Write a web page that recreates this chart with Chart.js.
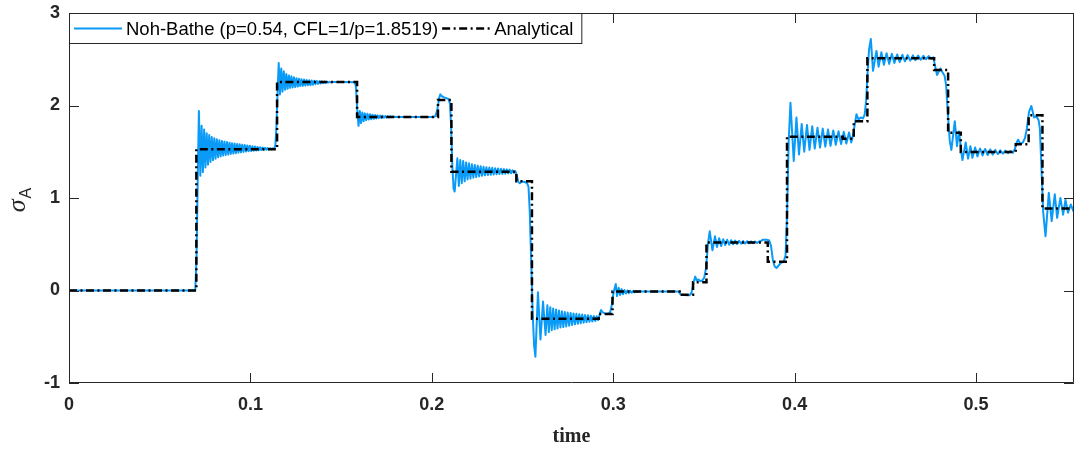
<!DOCTYPE html>
<html>
<head>
<meta charset="utf-8">
<script src="https://cdn.jsdelivr.net/npm/chart.js@4.4.1/dist/chart.umd.min.js"></script>
<style>
  html, body { margin: 0; padding: 0; background: #fff; }
  canvas { display: block; }
</style>
</head>
<body>
<canvas id="stressChart" width="1075" height="451"></canvas>
<script>
// Analytical stress at point A: step levels and the times they switch on
const analyticTimes  = [0, 0.0702, 0.1147, 0.1588, 0.2034, 0.2108, 0.2466, 0.2552, 0.2920, 0.2996, 0.3366, 0.3440,
                        0.3514, 0.3852, 0.3958, 0.4265, 0.4326, 0.4401, 0.4769, 0.4846, 0.4916, 0.5219, 0.5290, 0.5366, 0.554];
const analyticLevels = [0, 1.526, 2.255, 1.876, 2.06, 1.284, 1.18, -0.306, -0.255, -0.01, -0.046, 0.09,
                        0.52, 0.31, 1.663, 1.64, 1.83, 2.51, 2.385, 1.706, 1.497, 1.58, 1.894, 0.886, 0.886];

// Noh-Bathe response, [time, sigma] pairs, one list per wave arrival
const segRest = [[0, 0], [0.0696, 0], [0.0703, 0.35], [0.0710, 1.25]];

const seg071 = [
  [0.0716, 1.94], [0.0724, 1.24], [0.0731, 1.78], [0.0738, 1.28], [0.0745, 1.74], [0.0752, 1.33], [0.0759, 1.70],
  [0.0766, 1.36], [0.0773, 1.68], [0.0780, 1.39], [0.0787, 1.66], [0.0794, 1.41], [0.0801, 1.645], [0.0808, 1.425],
  [0.0815, 1.635], [0.0822, 1.44], [0.0829, 1.625], [0.0836, 1.45], [0.0843, 1.615], [0.0850, 1.46], [0.0857, 1.61],
  [0.0864, 1.465], [0.0871, 1.605], [0.0878, 1.47], [0.0885, 1.598], [0.0892, 1.476], [0.0899, 1.593], [0.0906, 1.481],
  [0.0913, 1.589], [0.0920, 1.485], [0.0927, 1.585], [0.0934, 1.49], [0.0941, 1.58], [0.0948, 1.494], [0.0955, 1.576],
  [0.0962, 1.498], [0.0969, 1.572], [0.0976, 1.502], [0.0983, 1.568], [0.0990, 1.505], [0.0997, 1.564], [0.1004, 1.508],
  [0.1011, 1.56], [0.1018, 1.511], [0.1025, 1.556], [0.1032, 1.514], [0.1039, 1.552], [0.1046, 1.516], [0.1053, 1.549],
  [0.1060, 1.518], [0.1067, 1.546], [0.1074, 1.52], [0.1081, 1.543], [0.1088, 1.522], [0.1095, 1.541], [0.1102, 1.524],
  [0.1109, 1.539], [0.1116, 1.526], [0.1123, 1.536], [0.1130, 1.53], [0.1137, 1.56], [0.1143, 1.75], [0.1149, 2.10]
];

const seg116 = [
  [0.1156, 2.46], [0.1163, 2.12], [0.1170, 2.40], [0.1177, 2.15], [0.1184, 2.37], [0.1191, 2.17], [0.1198, 2.34],
  [0.1205, 2.18], [0.1212, 2.325], [0.1219, 2.19], [0.1226, 2.315], [0.1233, 2.195], [0.1240, 2.305], [0.1247, 2.20],
  [0.1254, 2.295], [0.1261, 2.205], [0.1268, 2.29], [0.1275, 2.21], [0.1282, 2.285], [0.1289, 2.212], [0.1296, 2.28],
  [0.1303, 2.215], [0.1310, 2.276], [0.1317, 2.218], [0.1324, 2.272], [0.1331, 2.22], [0.1338, 2.27], [0.1345, 2.225],
  [0.1352, 2.267], [0.1359, 2.23], [0.1366, 2.265], [0.1373, 2.234], [0.1380, 2.263], [0.1387, 2.238], [0.1394, 2.261],
  [0.1401, 2.242], [0.1408, 2.259], [0.1415, 2.245], [0.1422, 2.257], [0.1429, 2.248], [0.1436, 2.256], [0.1443, 2.25],
  [0.1460, 2.254], [0.1500, 2.253], [0.1576, 2.252], [0.1582, 2.20], [0.1589, 1.95]
];

const seg159 = [
  [0.1596, 1.78], [0.1603, 1.94], [0.1610, 1.81], [0.1617, 1.925], [0.1624, 1.83], [0.1631, 1.915], [0.1638, 1.84],
  [0.1645, 1.91], [0.1652, 1.848], [0.1659, 1.905], [0.1666, 1.852], [0.1673, 1.90], [0.1680, 1.856], [0.1687, 1.897],
  [0.1694, 1.86], [0.1701, 1.894], [0.1708, 1.863], [0.1715, 1.891], [0.1722, 1.866], [0.1729, 1.888], [0.1736, 1.868],
  [0.1743, 1.886], [0.1750, 1.87], [0.1757, 1.884], [0.1764, 1.872], [0.1771, 1.882], [0.1778, 1.874], [0.1785, 1.880],
  [0.1800, 1.876], [0.2010, 1.876], [0.2020, 1.885], [0.2030, 1.95], [0.2040, 2.08], [0.2047, 2.12], [0.2055, 2.10],
  [0.2065, 2.09], [0.2080, 2.08], [0.2092, 2.07], [0.2100, 2.02], [0.2106, 1.80], [0.2113, 1.35], [0.2120, 1.10]
];

const seg210 = [
  [0.2126, 1.07], [0.2141, 1.43], [0.2149, 1.13], [0.2157, 1.41], [0.2165, 1.16], [0.2173, 1.40], [0.2181, 1.18],
  [0.2189, 1.385], [0.2197, 1.20], [0.2205, 1.375], [0.2213, 1.21], [0.2221, 1.365], [0.2229, 1.22], [0.2237, 1.357],
  [0.2245, 1.225], [0.2253, 1.35], [0.2261, 1.233], [0.2269, 1.343], [0.2277, 1.24], [0.2285, 1.337], [0.2293, 1.245],
  [0.2301, 1.333], [0.2309, 1.248], [0.2317, 1.329], [0.2325, 1.251], [0.2333, 1.326], [0.2341, 1.254], [0.2349, 1.322],
  [0.2357, 1.256], [0.2365, 1.319], [0.2373, 1.259], [0.2381, 1.316], [0.2389, 1.261], [0.2397, 1.313], [0.2405, 1.263],
  [0.2413, 1.31], [0.2421, 1.265], [0.2429, 1.307], [0.2437, 1.268], [0.2445, 1.30], [0.2453, 1.272], [0.2461, 1.29],
  [0.2469, 1.24], [0.2477, 1.17], [0.2485, 1.16], [0.2495, 1.18], [0.2505, 1.175], [0.2515, 1.17], [0.2525, 1.16],
  [0.2533, 1.12], [0.2540, 0.85], [0.2548, 0.30], [0.2556, -0.25], [0.2564, -0.60]
];

const seg257 = [
  [0.2571, -0.715], [0.2585, -0.02], [0.2599, -0.53], [0.2613, -0.12], [0.2627, -0.48], [0.2637, -0.16], [0.2645, -0.45],
  [0.2653, -0.18], [0.2661, -0.43], [0.2669, -0.195], [0.2677, -0.42], [0.2685, -0.205], [0.2693, -0.41], [0.2701, -0.215],
  [0.2709, -0.40], [0.2717, -0.225], [0.2725, -0.395], [0.2733, -0.232], [0.2741, -0.388], [0.2749, -0.238], [0.2757, -0.38],
  [0.2765, -0.243], [0.2773, -0.373], [0.2781, -0.248], [0.2789, -0.366], [0.2797, -0.252], [0.2805, -0.36], [0.2813, -0.256],
  [0.2821, -0.354], [0.2829, -0.26], [0.2837, -0.348], [0.2845, -0.264], [0.2853, -0.343], [0.2861, -0.268], [0.2869, -0.338],
  [0.2877, -0.272], [0.2885, -0.334], [0.2893, -0.276], [0.2901, -0.33], [0.2909, -0.28], [0.2917, -0.32], [0.2925, -0.26],
  [0.2933, -0.21], [0.2941, -0.235], [0.2955, -0.25], [0.2970, -0.25], [0.2982, -0.24], [0.2992, -0.16], [0.3002, -0.02],
  [0.3014, 0.07], [0.3021, -0.06], [0.3030, 0.03], [0.3038, -0.05], [0.3046, 0.015], [0.3054, -0.04], [0.3062, 0.005],
  [0.3070, -0.032], [0.3078, 0.0], [0.3086, -0.028], [0.3094, -0.003], [0.3102, -0.024], [0.3110, -0.005], [0.3118, -0.02],
  [0.3126, -0.006], [0.3134, -0.017], [0.3142, -0.008], [0.3160, -0.012], [0.3200, -0.01], [0.3355, -0.01]
];

const seg336 = [
  [0.3362, -0.015], [0.3372, -0.045], [0.3400, -0.05], [0.3422, -0.05], [0.3432, -0.02], [0.3442, 0.08], [0.3452, 0.15],
  [0.3460, 0.11], [0.3470, 0.12], [0.3480, 0.10], [0.3492, 0.11], [0.3502, 0.14], [0.3512, 0.25], [0.3522, 0.50],
  [0.3532, 0.64], [0.3547, 0.434], [0.3561, 0.586], [0.3572, 0.47], [0.3584, 0.565], [0.3595, 0.48], [0.3606, 0.555],
  [0.3617, 0.49], [0.3628, 0.548], [0.3639, 0.495], [0.3650, 0.543], [0.3661, 0.50], [0.3672, 0.54], [0.3683, 0.503],
  [0.3694, 0.537], [0.3705, 0.506], [0.3716, 0.535], [0.3727, 0.508], [0.3738, 0.533], [0.3749, 0.51], [0.3760, 0.531],
  [0.3771, 0.512], [0.3782, 0.53], [0.3793, 0.515], [0.3804, 0.53], [0.3815, 0.535], [0.3825, 0.55], [0.3845, 0.55],
  [0.3860, 0.54], [0.3870, 0.48], [0.3880, 0.33], [0.3890, 0.26], [0.3900, 0.243], [0.3912, 0.27], [0.3925, 0.30],
  [0.3940, 0.31], [0.3950, 0.38], [0.3958, 0.80], [0.3967, 1.60]
];

const seg397 = [
  [0.3977, 2.03], [0.3995, 1.40], [0.4010, 1.87], [0.4024, 1.47], [0.4039, 1.80], [0.4053, 1.50], [0.4068, 1.79],
  [0.4082, 1.52], [0.4097, 1.775], [0.4111, 1.535], [0.4126, 1.76], [0.4140, 1.545], [0.4155, 1.75], [0.4169, 1.555],
  [0.4184, 1.74], [0.4198, 1.565], [0.4213, 1.73], [0.4227, 1.575], [0.4242, 1.722], [0.4256, 1.583], [0.4271, 1.715],
  [0.4285, 1.59], [0.4300, 1.708], [0.4312, 1.60], [0.4322, 1.68], [0.4332, 1.80], [0.4341, 1.905], [0.4352, 1.85],
  [0.4364, 1.87], [0.4376, 1.86], [0.4386, 1.90], [0.4394, 2.05], [0.4402, 2.35], [0.4410, 2.60]
];

const seg442 = [
  [0.4420, 2.72], [0.4432, 2.375], [0.4451, 2.59], [0.4463, 2.42], [0.4478, 2.575], [0.4492, 2.44], [0.4507, 2.565],
  [0.4521, 2.45], [0.4536, 2.558], [0.4550, 2.46], [0.4565, 2.552], [0.4579, 2.47], [0.4594, 2.548], [0.4608, 2.478],
  [0.4623, 2.545], [0.4637, 2.485], [0.4652, 2.542], [0.4666, 2.49], [0.4681, 2.54], [0.4695, 2.495], [0.4710, 2.537],
  [0.4724, 2.50], [0.4739, 2.534], [0.4753, 2.505], [0.4765, 2.52], [0.4775, 2.42], [0.4785, 2.33], [0.4795, 2.37],
  [0.4804, 2.40], [0.4815, 2.36], [0.4827, 2.32], [0.4835, 2.22], [0.4845, 1.90], [0.4855, 1.62], [0.4864, 1.52],
  [0.4883, 1.83], [0.4895, 1.56], [0.4906, 1.72], [0.4916, 1.55], [0.4925, 1.41], [0.4943, 1.60], [0.4956, 1.425],
  [0.4969, 1.56], [0.4980, 1.435], [0.4995, 1.545], [0.5008, 1.45], [0.5022, 1.535], [0.5036, 1.46], [0.5050, 1.53],
  [0.5064, 1.465], [0.5078, 1.525], [0.5092, 1.47], [0.5106, 1.52], [0.5120, 1.475], [0.5134, 1.515], [0.5148, 1.48],
  [0.5162, 1.512], [0.5176, 1.485], [0.5190, 1.508], [0.5204, 1.49], [0.5214, 1.53], [0.5224, 1.60], [0.5232, 1.63],
  [0.5245, 1.585], [0.5258, 1.60], [0.5270, 1.65], [0.5280, 1.75], [0.5292, 1.93], [0.5305, 1.995], [0.5320, 1.87],
  [0.5332, 1.885], [0.5345, 1.84], [0.5352, 1.75], [0.5360, 1.35], [0.5370, 0.85], [0.5383, 0.586], [0.5401, 1.056],
  [0.5417, 0.75], [0.5434, 1.04], [0.5447, 0.785], [0.5465, 1.00], [0.5480, 0.82], [0.5493, 0.98], [0.5507, 0.84],
  [0.5522, 0.93], [0.5536, 0.86], [0.5545, 0.90]
];

const xTicks = [0, 0.1, 0.2, 0.3, 0.4, 0.5];
const yTicks = [-1, 0, 1, 2, 3];

const axisColor = '#262626';
const sansFont = "'Liberation Sans', Arial, sans-serif";
const serifFont = "'Liberation Serif', 'Times New Roman', serif";

const numerical = [].concat(segRest, seg071, seg116, seg159, seg210, seg257, seg336, seg397, seg442)
  .map(p => ({ x: p[0], y: p[1] }));
const analytical = analyticTimes.map((t, i) => ({ x: t, y: analyticLevels[i] }));

// box around the axes with inward ticks on all four sides
const axisFrame = {
  id: 'axisFrame',
  afterDatasetsDraw(chart) {
    const { ctx, chartArea: a, scales: { x, y } } = chart;
    const len = 10;
    ctx.save();
    ctx.strokeStyle = axisColor;
    ctx.lineWidth = 1;
    ctx.beginPath();
    ctx.rect(a.left + 0.5, a.top + 0.5, a.right - a.left - 1, a.bottom - a.top - 1);
    for (const v of xTicks) {
      const px = Math.round(x.getPixelForValue(v)) + 0.5;
      ctx.moveTo(px, a.bottom); ctx.lineTo(px, a.bottom - len);
      ctx.moveTo(px, a.top); ctx.lineTo(px, a.top + len);
    }
    for (const v of yTicks) {
      const py = Math.round(y.getPixelForValue(v)) + 0.5;
      ctx.moveTo(a.left, py); ctx.lineTo(a.left + len, py);
      ctx.moveTo(a.right, py); ctx.lineTo(a.right - len, py);
    }
    ctx.stroke();
    ctx.restore();
  }
};

// sigma with subscript A, rotated along the y axis
const sigmaLabel = {
  id: 'sigmaLabel',
  afterDraw(chart) {
    const { ctx, chartArea: a } = chart;
    ctx.save();
    ctx.translate(25, (a.top + a.bottom) / 2 + 2);
    ctx.rotate(-Math.PI / 2);
    ctx.fillStyle = axisColor;
    ctx.textBaseline = 'alphabetic';
    ctx.font = 'italic 26px ' + serifFont;
    const ws = ctx.measureText('σ').width;
    ctx.font = '16px ' + sansFont;
    const wa = ctx.measureText('A').width;
    const x0 = -(ws + wa + 1) / 2;
    ctx.font = 'italic 26px ' + serifFont;
    ctx.fillText('σ', x0, 0);
    ctx.font = '16px ' + sansFont;
    ctx.fillText('A', x0 + ws + 1, 6);
    ctx.restore();
  }
};

// legend box in the upper left corner of the axes
const cornerLegend = {
  id: 'cornerLegend',
  afterDraw(chart) {
    const { ctx, chartArea: a } = chart;
    const sets = chart.data.datasets;
    const top = a.top + 0.5, h = 30, mid = top + h / 2;
    const sample = 48;
    ctx.save();
    ctx.font = '18.5px ' + sansFont;
    let cx = a.left + 5;
    const items = sets.map(ds => {
      const item = { ds, x: cx, tx: cx + sample + 4 };
      cx = item.tx + ctx.measureText(ds.label).width + 4;
      return item;
    });
    const right = cx + 4;
    ctx.fillStyle = '#fff';
    ctx.fillRect(a.left + 0.5, top, right - a.left, h);
    ctx.strokeStyle = axisColor;
    ctx.lineWidth = 1;
    ctx.strokeRect(a.left + 0.5, top, right - a.left, h);
    for (const it of items) {
      ctx.beginPath();
      ctx.strokeStyle = it.ds.borderColor;
      ctx.lineWidth = it.ds.borderWidth;
      ctx.setLineDash(it.ds.borderDash || []);
      ctx.moveTo(it.x, mid);
      ctx.lineTo(it.x + sample, mid);
      ctx.stroke();
      ctx.setLineDash([]);
      ctx.fillStyle = '#000';
      ctx.textBaseline = 'middle';
      ctx.fillText(it.ds.label, it.tx, mid + 1);
    }
    ctx.restore();
  }
};

new Chart(document.getElementById('stressChart'), {
  type: 'line',
  data: {
    datasets: [{
      label: 'Noh-Bathe (p=0.54, CFL=1/p=1.8519)',
      data: numerical,
      borderColor: '#0a9af7',
      borderWidth: 2,
      borderJoinStyle: 'round',
      pointRadius: 0,
      tension: 0,
      order: 1
    }, {
      label: 'Analytical',
      data: analytical,
      borderColor: '#000000',
      borderWidth: 2.5,
      borderDash: [8, 3.5, 2, 3.5],
      stepped: 'before',
      pointRadius: 0,
      order: 0
    }]
  },
  options: {
    responsive: false,
    animation: false,
    devicePixelRatio: 1,
    layout: { padding: { top: 13, right: 1, left: 0, bottom: 0 } },
    plugins: { legend: { display: false }, tooltip: { enabled: false } },
    scales: {
      x: {
        type: 'linear',
        min: 0,
        max: 0.554,
        afterFit: s => { s.height = 68; s.paddingLeft = 0; s.paddingRight = 0; },
        afterBuildTicks: s => { s.ticks = xTicks.map(v => ({ value: v })); },
        grid: { display: false, drawTicks: false },
        border: { display: false },
        ticks: {
          padding: 11,
          maxRotation: 0,
          autoSkip: false,
          color: axisColor,
          font: { family: sansFont, size: 18, weight: 'bold' },
          callback: v => String(Math.round(v * 10) / 10)
        },
        title: {
          display: true,
          text: 'time',
          color: axisColor,
          font: { family: serifFont, size: 20, weight: 'bold' },
          padding: { top: 2, bottom: 2 }
        }
      },
      y: {
        min: -1,
        max: 3,
        afterFit: s => { s.width = 69; s.paddingTop = 0; s.paddingBottom = 0; },
        afterBuildTicks: s => { s.ticks = yTicks.map(v => ({ value: v })); },
        grid: { display: false, drawTicks: false },
        border: { display: false },
        ticks: {
          padding: 9,
          autoSkip: false,
          color: axisColor,
          font: { family: sansFont, size: 18, weight: 'bold' },
          callback: v => String(v)
        }
      }
    }
  },
  plugins: [axisFrame, sigmaLabel, cornerLegend]
});
</script>
</body>
</html>
